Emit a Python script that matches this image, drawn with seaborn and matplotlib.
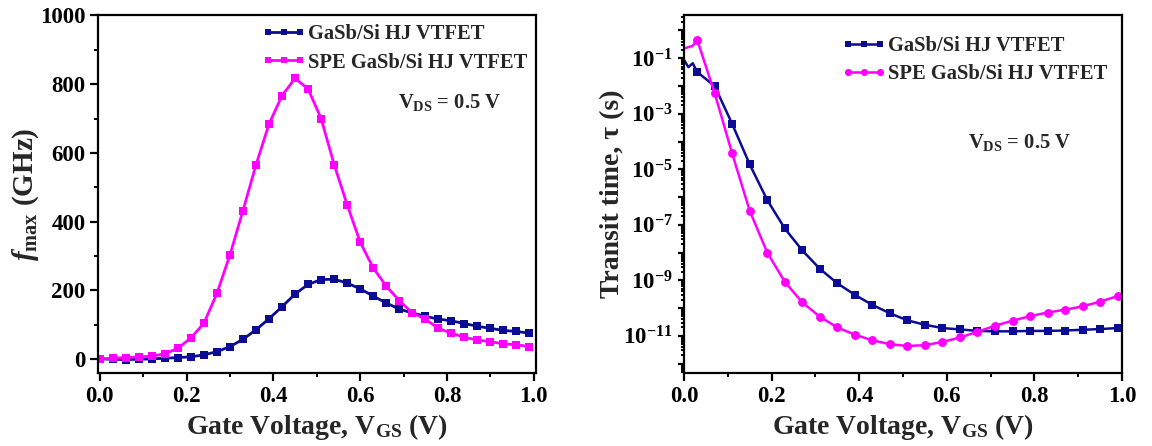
import matplotlib
matplotlib.use("Agg")
import matplotlib.pyplot as plt
import seaborn as sns
import pandas as pd
from matplotlib.ticker import MultipleLocator, LogLocator, FuncFormatter, NullFormatter
import numpy as np

# ---------------- data ----------------
series_names = ["GaSb/Si HJ VTFET", "SPE GaSb/Si HJ VTFET"]

vgs_f = [0.00, 0.03, 0.06, 0.09, 0.12, 0.15, 0.18, 0.21, 0.24, 0.27, 0.30, 0.33,
         0.36, 0.39, 0.42, 0.45, 0.48, 0.51, 0.54, 0.57, 0.60, 0.63, 0.66, 0.69,
         0.72, 0.75, 0.78, 0.81, 0.84, 0.87, 0.90, 0.93, 0.96, 0.99]
fmax_hj = [0, -1, -2, -1, 0, 2, 4, 6, 12, 21, 36, 57, 85, 117, 152, 189, 217, 231,
           232, 221, 204, 183, 163, 145, 134, 124, 116, 111, 103, 95, 89, 83, 80, 75]
fmax_spe = [0, 2, 4, 6, 8, 15, 31, 61, 104, 191, 303, 432, 565, 684, 767, 817, 786,
            700, 566, 449, 340, 265, 212, 170, 134, 116, 89, 75, 63, 55, 50, 44, 41, 36]

vgs_tau_hj = [0.00, 0.01, 0.02, 0.03, 0.07, 0.11, 0.15, 0.19, 0.23, 0.27, 0.31, 0.35,
              0.39, 0.43, 0.47, 0.51, 0.55, 0.59, 0.63, 0.67, 0.71, 0.75, 0.79, 0.83,
              0.87, 0.91, 0.95, 0.99]
tau_hj = [8.7e-2, 4.8e-2, 6.6e-2, 3.2e-2, 1.0e-2, 4.3e-4, 1.5e-5, 7.8e-7, 7.4e-8,
          1.2e-8, 2.6e-9, 7.8e-10, 3.0e-10, 1.3e-10, 6.5e-11, 3.6e-11, 2.5e-11,
          1.9e-11, 1.7e-11, 1.5e-11, 1.45e-11, 1.45e-11, 1.5e-11, 1.5e-11, 1.55e-11,
          1.65e-11, 1.75e-11, 1.9e-11]
vgs_tau_spe = [0.00, 0.02, 0.03, 0.07, 0.11, 0.15, 0.19, 0.23, 0.27, 0.31, 0.35, 0.39,
               0.43, 0.47, 0.51, 0.55, 0.59, 0.63, 0.67, 0.71, 0.75, 0.79, 0.83, 0.87,
               0.91, 0.95, 0.99]
tau_spe = [0.224, 0.28, 0.47, 5.5e-3, 3.7e-5, 3.2e-7, 1.0e-8, 8.9e-10, 1.6e-10,
           4.9e-11, 2.0e-11, 1.1e-11, 6.9e-12, 5.0e-12, 4.3e-12, 4.6e-12, 6.0e-12,
           8.7e-12, 1.4e-11, 2.3e-11, 3.5e-11, 5.1e-11, 6.9e-11, 8.7e-11, 1.15e-10,
           1.7e-10, 2.7e-10]

x_ticks = [0.0, 0.2, 0.4, 0.6, 0.8, 1.0]
f_ticks = [0, 200, 400, 600, 800, 1000]

# ---------------- style ----------------
sns.set_theme(style="ticks")
FONT = "Liberation Serif"
plt.rcParams.update({
    "font.family": [FONT, "DejaVu Serif"],
    "font.weight": "bold",
    "axes.labelweight": "bold",
    "mathtext.fontset": "custom",
    "mathtext.rm": "Liberation Serif:bold",
    "mathtext.bf": "Liberation Serif:bold",
    "mathtext.it": "Liberation Serif:bold:italic",
    "mathtext.default": "rm",
    "axes.linewidth": 1.6,
    "axes.edgecolor": "black",
    "xtick.color": "black",
    "ytick.color": "black",
    "xtick.direction": "out",
    "ytick.direction": "out",
})

BLUE = "#0B0B96"
PINK = "#FF00FF"
TICK_FS = 16.5
LABEL_FS = 20
LEG_FS = 14.8

df_f = pd.DataFrame({
    "vgs": vgs_f * 2,
    "val": fmax_hj + fmax_spe,
    "dev": [series_names[0]] * len(vgs_f) + [series_names[1]] * len(vgs_f),
})

fig = plt.figure(figsize=(11.52, 4.46), dpi=100)
axL = fig.add_axes([98 / 1152, 1 - 373 / 446, 438 / 1152, 357.5 / 446])
axR = fig.add_axes([684 / 1152, 1 - 373 / 446, 438 / 1152, 357.5 / 446])

# ---------------- left: fmax ----------------
for name, col in zip(series_names, [BLUE, PINK]):
    sub = df_f[df_f["dev"] == name]
    sns.lineplot(data=sub, x="vgs", y="val", ax=axL, color=col, linewidth=2.0,
                 marker="s", markersize=5.2, markeredgewidth=0, label=name,
                 sort=False, legend=False)

axL.set_xlim(-0.004, 1.005)
axL.set_ylim(-41, 1000)
axL.set_xticks(x_ticks)
axL.set_yticks(f_ticks)
axL.xaxis.set_minor_locator(MultipleLocator(0.1))
axL.yaxis.set_minor_locator(MultipleLocator(100))
axL.xaxis.set_major_formatter(FuncFormatter(lambda v, p: f"{v:.1f}"))
axL.set_xlabel(r"Gate Voltage, V$_{\mathrm{GS}}$ (V)", fontsize=LABEL_FS, fontweight="bold")
axL.set_ylabel(r"$\mathit{f}_{\mathrm{max}}$ (GHz)", fontsize=LABEL_FS + 1, fontweight="bold",
               labelpad=-1)
axL.text(0.685, 0.741, r"V$_{\mathrm{DS}}$ = 0.5 V", transform=axL.transAxes,
         fontsize=LEG_FS, fontweight="bold", va="baseline", ha="left")

# ---------------- right: transit time ----------------
df_hj = pd.DataFrame({"vgs": vgs_tau_hj, "tau": tau_hj})
df_spe = pd.DataFrame({"vgs": vgs_tau_spe, "tau": tau_spe})
sns.lineplot(data=df_hj, x="vgs", y="tau", ax=axR, color=BLUE, linewidth=1.8,
             marker="s", markersize=6.2, markeredgewidth=0, sort=False,
             markevery=list(range(3, len(vgs_tau_hj))), label=series_names[0], legend=False)
sns.lineplot(data=df_spe, x="vgs", y="tau", ax=axR, color=PINK, linewidth=1.8,
             marker="o", markersize=6.4, markeredgewidth=0, sort=False,
             markevery=list(range(2, len(vgs_tau_spe))), label=series_names[1], legend=False)
axR.set_yscale("log")
axR.set_xlim(0, 1)
axR.set_ylim(10 ** -12.34, 10 ** 0.54)
axR.set_xticks(x_ticks)
axR.xaxis.set_minor_locator(MultipleLocator(0.1))
axR.xaxis.set_major_formatter(FuncFormatter(lambda v, p: f"{v:.1f}"))
axR.yaxis.set_major_locator(LogLocator(base=10, numticks=30))
axR.yaxis.set_minor_locator(LogLocator(base=10, subs=np.arange(2, 10), numticks=30))
axR.yaxis.set_minor_formatter(NullFormatter())


def odd_fmt(v, p):
    e = int(round(np.log10(v)))
    if e % 2 == 0:
        return ""
    return r"$10^{%d}$" % e


axR.yaxis.set_major_formatter(FuncFormatter(odd_fmt))
axR.set_xlabel(r"Gate Voltage, V$_{\mathrm{GS}}$ (V)", fontsize=LABEL_FS, fontweight="bold")
axR.set_ylabel(r"Transit time, τ (s)", fontsize=LABEL_FS, fontweight="bold", labelpad=-1)
axR.text(0.648, 0.629, r"V$_{\mathrm{DS}}$ = 0.5 V", transform=axR.transAxes,
         fontsize=LEG_FS, fontweight="bold", va="baseline", ha="left")

for ax in (axL, axR):
    ax.tick_params(axis="both", which="major", labelsize=TICK_FS, length=5.5, width=1.6,
                   top=False, right=False)
    ax.tick_params(axis="both", which="minor", length=3.2, width=1.4, top=False, right=False)
    for lab in ax.get_xticklabels() + ax.get_yticklabels():
        lab.set_fontweight("bold")
    for s in ax.spines.values():
        s.set_visible(True)
        s.set_linewidth(1.6)
        s.set_color("black")

axR.tick_params(axis="y", which="major", length=4.5)
axR.tick_params(axis="y", which="minor", length=2.5)

legL = axL.legend(loc="upper left", bbox_to_anchor=(0.388, 0.975), frameon=False,
                  borderpad=0, borderaxespad=0, handlelength=1.55,
                  handletextpad=0.42, labelspacing=0.4, markerscale=0.8,
                  prop={"family": FONT, "weight": "bold", "size": LEG_FS})
legR = axR.legend(loc="upper left", bbox_to_anchor=(0.374, 0.942), frameon=False,
                  borderpad=0, borderaxespad=0, handlelength=1.55,
                  handletextpad=0.4, labelspacing=0.4, markerscale=0.8,
                  prop={"family": FONT, "weight": "bold", "size": LEG_FS})
for leg in (legL, legR):
    for h in leg.legend_handles:
        h.set_markevery(None)

fig.savefig("out.png", dpi=100)
